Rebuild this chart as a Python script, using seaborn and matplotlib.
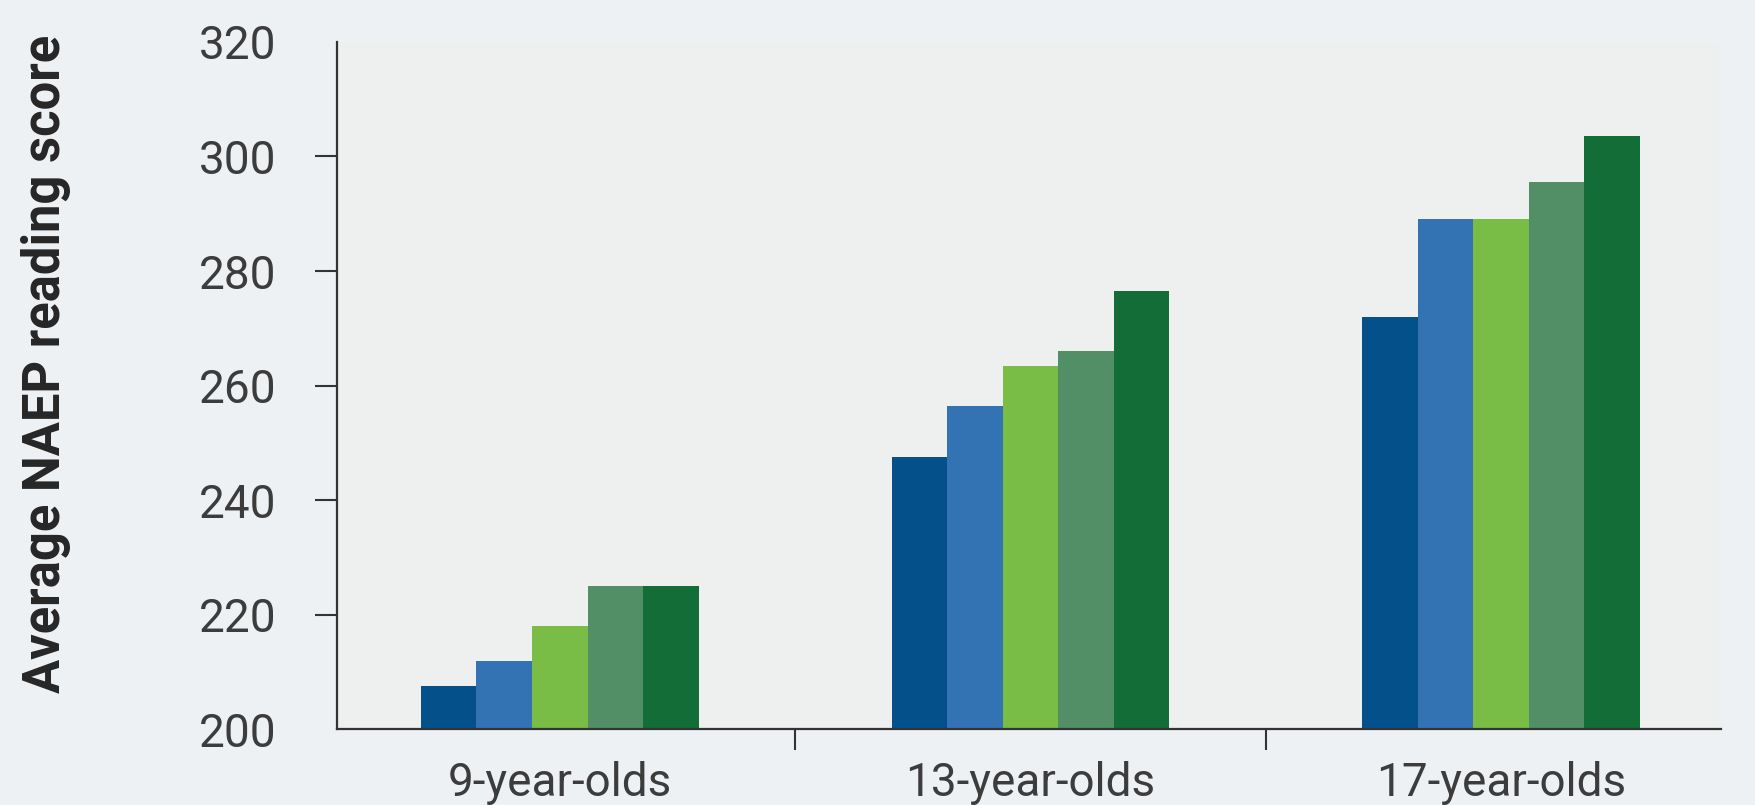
import matplotlib
matplotlib.use("Agg")
import matplotlib.pyplot as plt
import seaborn as sns
import pandas as pd

# Average NAEP reading scores by age group, five series per group
age_groups = ["9-year-olds", "13-year-olds", "17-year-olds"]
series_names = ["A", "B", "C", "D", "E"]
scores_a = [207.5, 247.5, 272.0]
scores_b = [212.0, 256.5, 289.0]
scores_c = [218.0, 263.5, 289.0]
scores_d = [225.0, 266.0, 295.5]
scores_e = [225.0, 276.5, 303.5]
y_ticks = [200, 220, 240, 260, 280, 300, 320]

bar_colors = ["#03508a", "#3373b3", "#7abd46", "#538f66", "#126d37"]

rows = []
for name, vals in zip(series_names, [scores_a, scores_b, scores_c, scores_d, scores_e]):
    for grp, v in zip(age_groups, vals):
        rows.append({"age": grp, "series": name, "score": v})
df = pd.DataFrame(rows)

sns.set_theme(style="white")
plt.rcParams["font.family"] = ["Roboto", "DejaVu Sans"]

fig = plt.figure(figsize=(17.56, 8.05), dpi=100, facecolor="#eef1f4")
ax = fig.add_axes([0.192, 0.094, 0.788, 0.854])
ax.set_facecolor("#eeefef")

sns.barplot(data=df, x="age", y="score", hue="series", order=age_groups,
            hue_order=series_names, palette=bar_colors, width=0.59,
            saturation=1, legend=False, ax=ax, linewidth=0)

ax.set_ylim(200, 320)
ax.set_xlim(-0.473, 2.467)
ax.set_yticks(y_ticks)
ax.set_yticklabels([str(t) for t in y_ticks], fontsize=33, fontweight="normal",
                   color="#3c3c3c")
ax.set_xticks(range(len(age_groups)))
ax.set_xticklabels(age_groups, fontsize=33, fontweight="normal", color="#3c3c3c")
ax.set_xticks([0.5, 1.5], minor=True)

ax.tick_params(axis="y", which="major", direction="out", length=16, width=1.5,
               color="#333333", pad=28, left=True)
ax.tick_params(axis="x", which="major", length=0, pad=23)
ax.tick_params(axis="x", which="minor", direction="out", length=15, width=1.5,
               color="#333333", bottom=True)

ytick_objs = ax.yaxis.get_major_ticks()
ytick_objs[0].tick1line.set_visible(False)
ytick_objs[-1].tick1line.set_visible(False)

for side in ["top", "right"]:
    ax.spines[side].set_visible(False)
for side in ["left", "bottom"]:
    ax.spines[side].set_color("#333333")
    ax.spines[side].set_linewidth(1.6)

ax.set_xlabel("")
ax.set_ylabel("Average NAEP reading score", fontsize=36.5, fontweight="bold",
              family=["Roboto", "DejaVu Sans"], color="#262626")
ax.yaxis.set_label_coords(-0.192, 0.531)

fig.savefig("out.png", dpi=100, facecolor=fig.get_facecolor())
